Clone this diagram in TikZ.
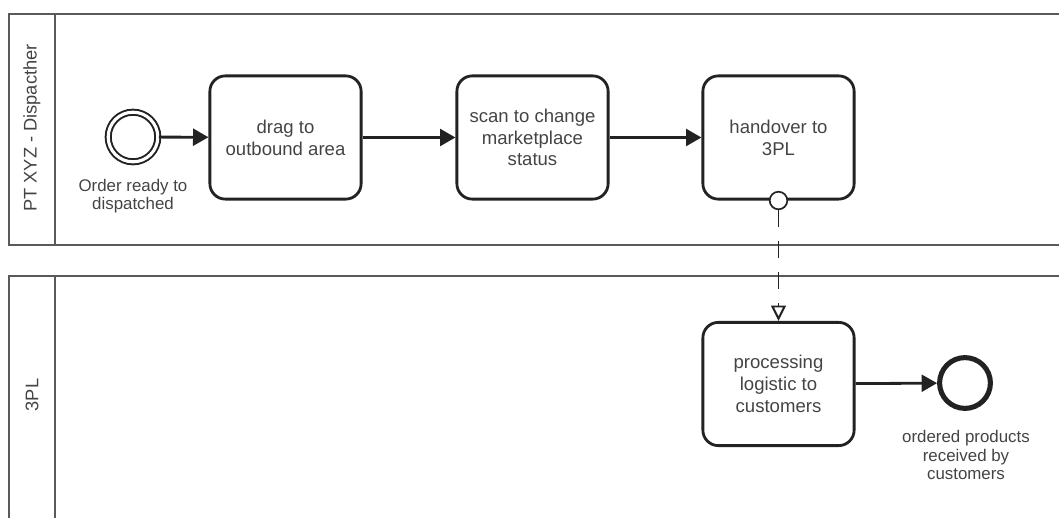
\documentclass[tikz,border=0pt]{standalone}
\usepackage{fontspec}
\setsansfont{Liberation Sans}
\usetikzlibrary{arrows.meta,positioning}
\definecolor{lanegray}{HTML}{5A5A5A}
\definecolor{flowgray}{HTML}{222222}
\definecolor{textgray}{HTML}{444444}
\tikzset{every picture/.style={/utils/exec={\sffamily}}}
\tikzset{lane/.style={draw=lanegray, line width=1.7pt}}
\tikzset{task/.style={draw=flowgray, line width=2pt, rounded corners=11pt, minimum width=3.78cm, minimum height=3.08cm, align=center, text=textgray, font=\fontsize{13.2}{15.5}\selectfont}}
\tikzset{startevent/.style={circle, draw=flowgray, line width=1.4pt, double=white, double distance=2.2pt, minimum size=1.24cm, inner sep=0pt}}
\tikzset{endevent/.style={circle, draw=flowgray, line width=3.6pt, minimum size=1.27cm, inner sep=0pt}}
\tikzset{msgstart/.style={circle, draw=flowgray, fill=white, line width=1.2pt, minimum size=0.44cm, inner sep=0pt}}
\tikzset{eventlabel/.style={align=center, text=textgray, font=\fontsize{12}{13}\selectfont}}
\tikzset{flow/.style={-{Triangle[length=11pt, width=12pt]}, draw=flowgray, line width=2pt}}
\tikzset{message/.style={-{Triangle[open, length=11pt, width=10.5pt]}, draw=flowgray, line width=1.4pt, dash pattern=on 12pt off 10pt}}

\begin{document}
\begin{tikzpicture}[x=0.025cm, y=-0.025cm]
    \useasboundingbox (0,0) rectangle (1059,518);
    % pools
    \draw [lane] (1070,14) -- (9,14) -- (9,245) -- (1070,245);
    \draw [lane] (55,14) -- (55,245);
    \draw [lane] (1070,276) -- (9,276) -- (9,530);
    \draw [lane] (55,276) -- (55,530);
    \node [rotate=90, text=textgray, font=\fontsize{13}{14}\selectfont] (dispatcher) at (32,128) {PT XYZ - Dispacther};
    \node [rotate=90, text=textgray, font=\fontsize{13}{14}\selectfont] (thirdparty) at (32,395) {3PL};
    % events and tasks
    \node [startevent] (start) at (133,137) {};
    \node [eventlabel] (startlabel) at (133,196) {Order ready to\\dispatched};
    \node [task] (drag) at (285.5,137.5) {drag to\\outbound area};
    \node [task] (scan) at (532.5,137.5) {scan to change\\marketplace\\status};
    \node [task] (handover) at (778.5,137.5) {handover to\\3PL};
    \node [task] (process) at (778.5,384) {processing\\logistic to\\customers};
    \node [endevent] (finish) at (965,383) {};
    \node [eventlabel] (finishlabel) at (966,455) {ordered products\\received by\\customers};
    \draw [flow] (start) -- (drag);
    \draw [flow] (drag) -- (scan);
    \draw [flow] (scan) -- (handover);
    \draw [flow] (process) -- (finish);
    % message flow
    \node [msgstart] (msg) at (handover.south) {};
    \draw [message] (msg) -- (process);
\end{tikzpicture}
\end{document}
